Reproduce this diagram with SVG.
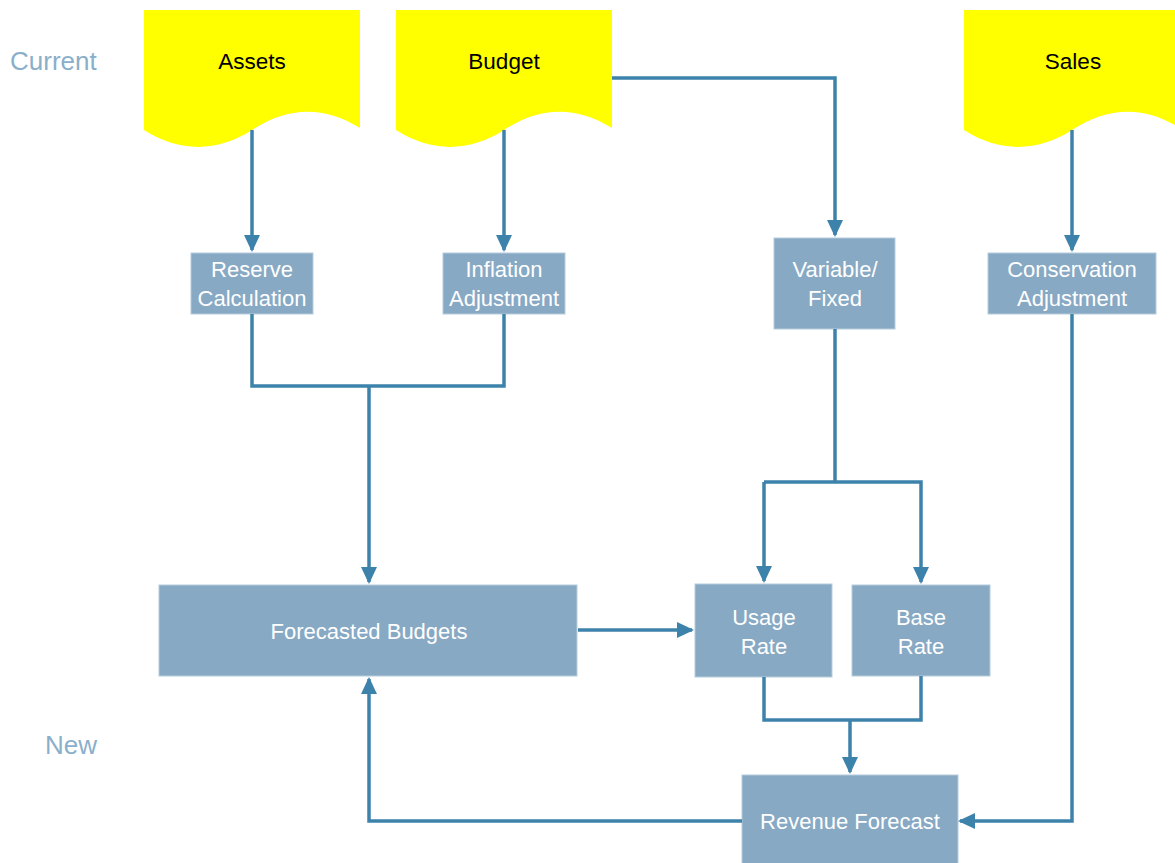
<svg xmlns="http://www.w3.org/2000/svg" width="1175" height="863" viewBox="0 0 1175 863">
<defs>
<style>
.doc{fill:#FFFF00}
.box{fill:#87A9C4;stroke:#B5CCDD;stroke-width:1}
.dt{font-family:"Liberation Sans",Arial,sans-serif;font-size:22.5px;fill:#000;text-anchor:middle}
.bt{font-family:"Liberation Sans",Arial,sans-serif;font-size:22px;fill:#FFFFFF;text-anchor:middle}
.lbl{font-family:"Liberation Sans",Arial,sans-serif;font-size:26px;fill:#8AAFCB}
.c{fill:none;stroke:#3D82AA;stroke-width:3.5;stroke-linejoin:miter}
</style>
<marker id="ah" markerUnits="userSpaceOnUse" markerWidth="17" markerHeight="16" viewBox="0 0 17 16" refX="15" refY="8" orient="auto">
<path d="M0,0 L17,8 L0,16 Z" fill="#3D82AA"/>
</marker>
</defs>
<text class="lbl" x="10" y="70">Current</text>
<text class="lbl" x="45" y="754">New</text>
<g id="assets">
<path class="doc" d="M144,10 H360 V128 C322,104 285,108 252,130 C218,152 180,153 144,130 Z"/>
<text class="dt" x="252" y="69">Assets</text>
</g>
<g id="budget">
<path class="doc" d="M396,10 H612 V128 C574,104 537,108 504,130 C470,152 432,153 396,130 Z"/>
<text class="dt" x="504" y="69">Budget</text>
</g>
<g id="sales">
<path class="doc" d="M964,10 H1180 V128 C1142,104 1105,108 1072,130 C1038,152 1000,153 964,130 Z"/>
<text class="dt" x="1073" y="69">Sales</text>
</g>
<g id="reserve">
<rect class="box" x="191" y="253" width="122" height="61"/>
<text class="bt" x="252" y="277">Reserve</text>
<text class="bt" x="252" y="306">Calculation</text>
</g>
<g id="inflation">
<rect class="box" x="443" y="253" width="122" height="61"/>
<text class="bt" x="504" y="277">Inflation</text>
<text class="bt" x="504" y="306">Adjustment</text>
</g>
<g id="variable">
<rect class="box" x="774" y="238" width="121" height="91"/>
<text class="bt" x="835" y="277">Variable/</text>
<text class="bt" x="835" y="306">Fixed</text>
</g>
<g id="conservation">
<rect class="box" x="988" y="253" width="168" height="61"/>
<text class="bt" x="1072" y="277">Conservation</text>
<text class="bt" x="1072" y="306">Adjustment</text>
</g>
<g id="forecasted">
<rect class="box" x="159" y="585" width="418" height="91"/>
<text class="bt" x="369" y="639">Forecasted Budgets</text>
</g>
<g id="usage">
<rect class="box" x="695" y="584" width="137" height="93"/>
<text class="bt" x="764" y="625">Usage</text>
<text class="bt" x="764" y="654">Rate</text>
</g>
<g id="base">
<rect class="box" x="852" y="585" width="138" height="91"/>
<text class="bt" x="921" y="625">Base</text>
<text class="bt" x="921" y="654">Rate</text>
</g>
<g id="revenue">
<rect class="box" x="742" y="775" width="216" height="90"/>
<text class="bt" x="850" y="829">Revenue Forecast</text>
</g>
<g id="connectors">
<path class="c" d="M252,130 V250" marker-end="url(#ah)"/>
<path class="c" d="M504,130 V250" marker-end="url(#ah)"/>
<path class="c" d="M612,78 H835 V235" marker-end="url(#ah)"/>
<path class="c" d="M1072,130 V250" marker-end="url(#ah)"/>
<path class="c" d="M252,314 V386 H504 V314"/>
<path class="c" d="M369,386 V582" marker-end="url(#ah)"/>
<path class="c" d="M835,329 V482"/>
<path class="c" d="M764,482 H921 V582" marker-end="url(#ah)"/>
<path class="c" d="M764,482 V581" marker-end="url(#ah)"/>
<path class="c" d="M578,630 H692" marker-end="url(#ah)"/>
<path class="c" d="M764,677 V720 H921 V676"/>
<path class="c" d="M850,720 V772" marker-end="url(#ah)"/>
<path class="c" d="M1072,314 V821 H960" marker-end="url(#ah)"/>
<path class="c" d="M742,821 H369 V679" marker-end="url(#ah)"/>
</g>
</svg>
